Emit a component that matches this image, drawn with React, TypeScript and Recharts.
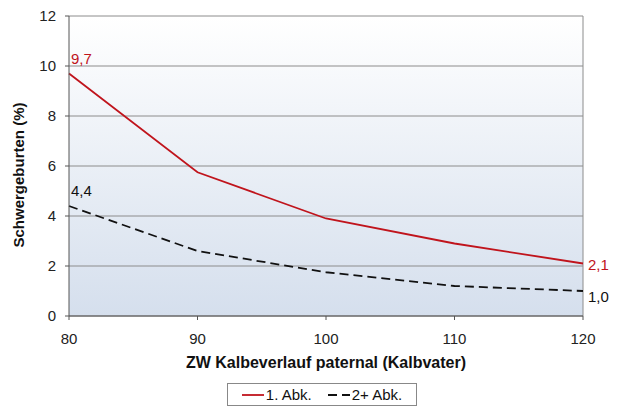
import { LineChart, Line, XAxis, YAxis, CartesianGrid, ReferenceLine, Label } from "recharts";

const zwValues = [80, 90, 100, 110, 120];
const ersteAbk = [9.7, 5.75, 3.9, 2.9, 2.1];
const folgeAbk = [4.4, 2.6, 1.75, 1.2, 1.0];
const yTicks = [0, 2, 4, 6, 8, 10, 12];

const data = zwValues.map((zw, i) => ({ zw, erste: ersteAbk[i], folge: folgeAbk[i] }));

const RED = "#c0141c";
const FONT = "'Liberation Sans', Arial, sans-serif";

const fmt = (v: number) => v.toFixed(1).replace(".", ",");

function endLabel(color: string, firstDy: number, lastDy: number) {
  return (props: any) => {
    const { x, y, value, index } = props;
    if (index === 0) {
      return (
        <text x={x + 2} y={y + firstDy} fill={color} fontSize={15} fontFamily={FONT}>
          {fmt(value)}
        </text>
      );
    }
    if (index === zwValues.length - 1) {
      return (
        <text x={x + 5} y={y + lastDy} fill={color} fontSize={15} fontFamily={FONT}>
          {fmt(value)}
        </text>
      );
    }
    return null;
  };
}

export default function App() {
  return (
    <div style={{ position: "relative", width: 617, height: 409, fontFamily: FONT }}>
      <style>{`body{margin:0}`}</style>
      <LineChart width={617} height={409} data={data} margin={{ top: 16, right: 34, left: 0, bottom: 43 }}>
        <defs>
          <linearGradient id="plotBg" x1="0" y1="0" x2="0" y2="1">
            <stop offset="0%" stopColor="#ffffff" />
            <stop offset="100%" stopColor="#d5dfed" />
          </linearGradient>
        </defs>
        <CartesianGrid vertical={false} stroke="#8c8c8c" fill="url(#plotBg)" fillOpacity={1} />
        <ReferenceLine x={120} stroke="#8c8c8c" />
        <XAxis
          dataKey="zw"
          type="number"
          domain={[80, 120]}
          ticks={zwValues}
          height={50}
          stroke="#555"
          tickSize={4}
          tickMargin={13}
          tick={{ fill: "#222", fontSize: 15, fontFamily: FONT }}
        >
          <Label
            content={() => (
              <text x={326} y={362} textAnchor="middle" dominantBaseline="central" fill="#111" fontSize={16} fontWeight="bold" fontFamily={FONT}>
                ZW Kalbeverlauf paternal (Kalbvater)
              </text>
            )}
          />
        </XAxis>
        <YAxis
          domain={[0, 12]}
          ticks={yTicks}
          width={69}
          stroke="#555"
          tickSize={4}
          tickMargin={9}
          tick={{ fill: "#222", fontSize: 15, fontFamily: FONT }}
        >
          <Label
            content={() => (
              <text x={18} y={175} transform="rotate(-90, 18, 175)" textAnchor="middle" dominantBaseline="central" fill="#111" fontSize={15} fontWeight="bold" fontFamily={FONT}>
                Schwergeburten (%)
              </text>
            )}
          />
        </YAxis>
        <Line
          dataKey="erste"
          stroke={RED}
          strokeWidth={1.8}
          dot={false}
          type="linear"
          isAnimationActive={false}
          label={endLabel(RED, -10, 6)}
        />
        <Line
          dataKey="folge"
          stroke="#111"
          strokeWidth={1.8}
          strokeDasharray="9 5"
          dot={false}
          type="linear"
          isAnimationActive={false}
          label={endLabel("#111", -10, 11)}
        />
      </LineChart>
      <div
        style={{
          position: "absolute",
          left: 227,
          top: 383,
          width: 188,
          height: 21,
          border: "1px solid #888",
          display: "flex",
          alignItems: "center",
          justifyContent: "center",
          fontSize: 15,
          color: "#111",
          background: "#fff",
        }}
      >
        <svg width={22} height={4} style={{ marginRight: 2 }}>
          <line x1={0} y1={2} x2={22} y2={2} stroke={RED} strokeWidth={1.8} />
        </svg>
        <span style={{ marginRight: 16 }}>1. Abk.</span>
        <svg width={22} height={4} style={{ marginRight: 2 }}>
          <line x1={0} y1={2} x2={22} y2={2} stroke="#111" strokeWidth={1.8} strokeDasharray="9 5" />
        </svg>
        <span>2+ Abk.</span>
      </div>
    </div>
  );
}
